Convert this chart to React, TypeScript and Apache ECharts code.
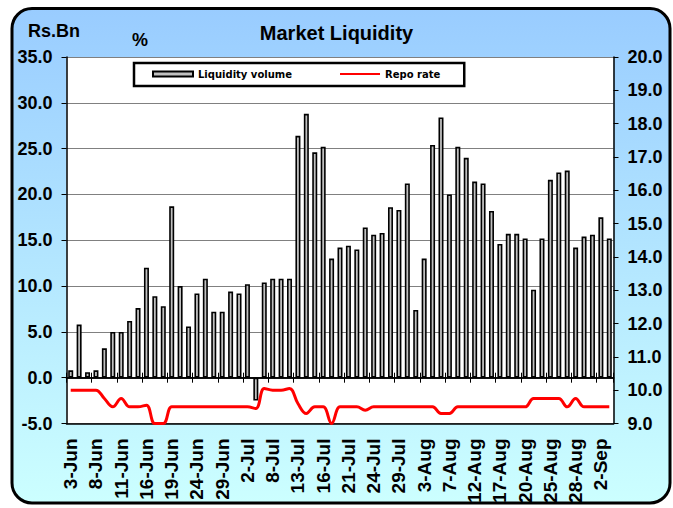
import React, { useEffect, useRef } from 'react';
import * as echarts from 'echarts';

const dates = [
  '3-Jun', '4-Jun', '5-Jun', '8-Jun', '9-Jun', '10-Jun', '11-Jun', '12-Jun', '15-Jun', '16-Jun',
  '17-Jun', '18-Jun', '19-Jun', '22-Jun', '23-Jun', '24-Jun', '25-Jun', '26-Jun', '29-Jun', '30-Jun',
  '1-Jul', '2-Jul', '3-Jul', '6-Jul', '8-Jul', '9-Jul', '10-Jul', '13-Jul', '14-Jul', '15-Jul',
  '16-Jul', '17-Jul', '20-Jul', '21-Jul', '22-Jul', '23-Jul', '24-Jul', '27-Jul', '28-Jul', '29-Jul',
  '30-Jul', '31-Jul', '3-Aug', '4-Aug', '6-Aug', '7-Aug', '10-Aug', '11-Aug', '12-Aug', '13-Aug',
  '14-Aug', '17-Aug', '18-Aug', '19-Aug', '20-Aug', '21-Aug', '24-Aug', '25-Aug', '26-Aug', '27-Aug',
  '28-Aug', '31-Aug', '1-Sep', '2-Sep', '3-Sep',
];

const liquidityVolume = [
  0.8, 5.8, 0.6, 0.8, 3.2, 5.0, 5.0, 6.2, 7.6, 12.0,
  8.9, 7.8, 18.7, 10.0, 5.6, 9.2, 10.8, 7.2, 7.2, 9.4,
  9.2, 10.2, -2.5, 10.4, 10.8, 10.8, 10.8, 26.4, 28.8, 24.6,
  25.2, 13.0, 14.2, 14.4, 14.0, 16.4, 15.6, 15.8, 18.6, 18.3,
  21.2, 7.4, 13.0, 25.4, 28.4, 20.0, 25.2, 24.0, 21.4, 21.2,
  18.2, 14.6, 15.7, 15.7, 15.2, 9.6, 15.2, 21.6, 22.4, 22.6,
  14.2, 15.4, 15.6, 17.5, 15.2,
];

const repoRate = [
  10.0, 10.0, 10.0, 10.0, 9.75, 9.5, 9.75, 9.5, 9.5, 9.55,
  9.0, 9.0, 9.5, 9.5, 9.5, 9.5, 9.5, 9.5, 9.5, 9.5,
  9.5, 9.5, 9.45, 10.05, 10.0, 10.0, 10.05, 9.6, 9.3, 9.5,
  9.5, 9.0, 9.5, 9.5, 9.5, 9.4, 9.5, 9.5, 9.5, 9.5,
  9.5, 9.5, 9.5, 9.5, 9.3, 9.3, 9.5, 9.5, 9.5, 9.5,
  9.5, 9.5, 9.5, 9.5, 9.5, 9.75, 9.75, 9.75, 9.75, 9.5,
  9.75, 9.5, 9.5, 9.5, 9.5,
];

const leftAxis = { min: -5, max: 35, interval: 5 };
const rightAxis = { min: 9, max: 20, interval: 1 };

const FONT = "'Liberation Sans', Arial, sans-serif";

export default function App() {
  const ref = useRef<HTMLDivElement>(null);

  useEffect(() => {
    if (!ref.current) return;
    const chart = echarts.init(ref.current, undefined, { renderer: 'svg' });

    const zeroAxisCommon = {
      type: 'category',
      data: dates,
      position: 'bottom',
      axisLabel: { show: false },
      splitLine: { show: false },
    };

    chart.setOption({
      animation: false,
      backgroundColor: '#ffffff',
      graphic: [
        {
          type: 'rect',
          z: -10,
          shape: { x: 12, y: 8.5, width: 658, height: 494.5, r: 20 },
          style: {
            fill: new echarts.graphic.LinearGradient(0, 0, 0, 1, [
              { offset: 0, color: '#99CCFF' },
              { offset: 1, color: '#CCFFFF' },
            ]),
            stroke: '#000000',
            lineWidth: 3,
          },
        },
      ],
      title: [
        {
          text: 'Market Liquidity',
          left: 'center',
          top: 23,
          padding: 0,
          textStyle: { fontFamily: FONT, fontSize: 20, fontWeight: 'bold', color: '#000' },
        },
        {
          text: 'Rs.Bn',
          left: 28,
          top: 21.5,
          padding: 0,
          textStyle: { fontFamily: FONT, fontSize: 18, fontWeight: 'bold', color: '#000' },
        },
        {
          text: '%',
          left: 132,
          top: 31,
          padding: 0,
          textStyle: { fontFamily: FONT, fontSize: 18, fontWeight: 'bold', color: '#000' },
        },
      ],
      legend: {
        left: 134,
        top: 63,
        orient: 'horizontal',
        padding: [6, 24, 7, 18],
        itemGap: 47,
        itemWidth: 40,
        itemHeight: 5,
        borderColor: '#000',
        borderWidth: 2.5,
        backgroundColor: '#ffffff',
        textStyle: { fontFamily: "'DejaVu Sans', sans-serif", fontSize: 10, fontWeight: 'bold', color: '#000' },
        data: [
          { name: 'Liquidity volume', icon: 'rect' },
          { name: 'Repo rate', itemStyle: { color: 'rgba(0,0,0,0)', borderWidth: 0, opacity: 0 } },
        ],
      },
      grid: {
        left: 66.5,
        top: 57,
        width: 547,
        height: 366.5,
        show: true,
        backgroundColor: '#ffffff',
        borderWidth: 0,
      },
      xAxis: [
        {
          type: 'category',
          data: dates,
          position: 'bottom',
          axisLine: { onZero: false, lineStyle: { color: '#000', width: 1.5 } },
          axisTick: { show: false },
          axisLabel: {
            interval: 2,
            rotate: 90,
            margin: 15,
            fontFamily: FONT,
            fontSize: 19,
            fontWeight: 'bold',
            color: '#000',
          },
          splitLine: { show: false },
        },
        {
          ...zeroAxisCommon,
          axisLine: { onZero: true, onZeroAxisIndex: 0, lineStyle: { color: '#000', width: 1.5 } },
          axisTick: { show: true, interval: 2, length: 5, lineStyle: { color: '#000', width: 1 } },
        },
        {
          ...zeroAxisCommon,
          axisLine: { onZero: true, onZeroAxisIndex: 0, lineStyle: { color: '#000', width: 1.5 } },
          axisTick: { show: true, inside: true, interval: 2, length: 5, lineStyle: { color: '#000', width: 1 } },
        },
      ],
      yAxis: [
        {
          type: 'value',
          position: 'left',
          min: leftAxis.min,
          max: leftAxis.max,
          interval: leftAxis.interval,
          axisLine: { show: true, lineStyle: { color: '#000', width: 1.5 } },
          axisTick: { show: true, length: 5, lineStyle: { color: '#000', width: 1 } },
          axisLabel: {
            margin: 14,
            formatter: (v: number) => v.toFixed(1),
            fontFamily: FONT,
            fontSize: 18,
            fontWeight: 'bold',
            color: '#000',
          },
          splitLine: { show: true, lineStyle: { color: '#808080', width: 1 } },
        },
        {
          type: 'value',
          position: 'right',
          min: rightAxis.min,
          max: rightAxis.max,
          interval: rightAxis.interval,
          axisLine: { show: true, lineStyle: { color: '#000', width: 1.5 } },
          axisTick: { show: true, length: 5, lineStyle: { color: '#000', width: 1 } },
          axisLabel: {
            margin: 14,
            formatter: (v: number) => v.toFixed(1),
            fontFamily: FONT,
            fontSize: 18,
            fontWeight: 'bold',
            color: '#000',
          },
          splitLine: { show: false },
        },
      ],
      series: [
        {
          name: 'Liquidity volume',
          type: 'bar',
          xAxisIndex: 0,
          yAxisIndex: 0,
          data: liquidityVolume,
          barWidth: 5,
          itemStyle: { color: '#C0C0C0', borderColor: '#000', borderWidth: 1.6 },
        },
        {
          name: 'Repo rate',
          type: 'line',
          xAxisIndex: 0,
          yAxisIndex: 1,
          data: repoRate,
          smooth: 0.4,
          symbol: 'none',
          lineStyle: { color: '#FF0000', width: 3 },
          itemStyle: { color: '#FF0000' },
          z: 3,
        },
      ],
    });

    return () => {
      chart.dispose();
    };
  }, []);

  return (
    <div
      ref={ref}
      style={{ position: 'absolute', left: 0, top: 0, width: 673, height: 508 }}
    />
  );
}
